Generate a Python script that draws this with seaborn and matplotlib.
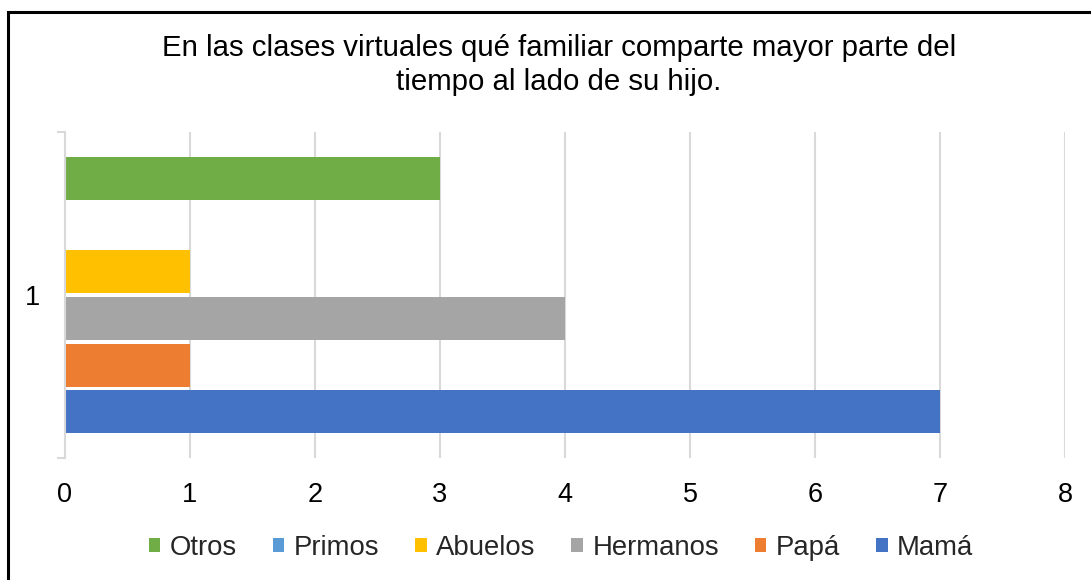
import matplotlib
matplotlib.use("Agg")
import matplotlib.pyplot as plt
import matplotlib.patches as mpatches
import seaborn as sns
import pandas as pd

title = "En las clases virtuales qué familiar comparte mayor parte del\ntiempo al lado de su hijo."
category = ["1"]
series = ["Otros", "Primos", "Abuelos", "Hermanos", "Papá", "Mamá"]
values = [3, 0, 1, 4, 1, 7]
colors = ["#70AD47", "#5B9BD5", "#FFC000", "#A5A5A5", "#ED7D31", "#4472C4"]
xticks = [0, 1, 2, 3, 4, 5, 6, 7, 8]

df = pd.DataFrame({"cat": category * len(series), "serie": series, "valor": values})

sns.set_theme(style="white")
plt.rcParams["font.family"] = ["Liberation Sans", "DejaVu Sans"]

W, H = 1091, 580
fig = plt.figure(figsize=(W / 100, H / 100), dpi=100)
ax = fig.add_axes([65 / W, 1 - 458 / H, 1000 / W, 326 / H])

sns.barplot(data=df, x="valor", y="cat", hue="serie", hue_order=series,
            palette=colors, orient="h", width=0.86, gap=0.08, saturation=1,
            ax=ax, linewidth=0)

ax.set_xlim(0, 8)
ax.set_ylim(0.5, -0.5)
ax.set_xticks(xticks)
ax.set_xticklabels([str(t) for t in xticks])
ax.grid(axis="x", color="#d9d9d9", linewidth=1.5)
ax.set_axisbelow(True)
for s in ["top", "right", "bottom"]:
    ax.spines[s].set_visible(False)
ax.spines["left"].set_color("#d9d9d9")
ax.spines["left"].set_linewidth(1.5)
ax.set_yticks([-0.5, 0.5], minor=True)
ax.tick_params(axis="y", which="minor", left=True, length=6, width=1.5,
               color="#d9d9d9", direction="out")
ax.tick_params(axis="y", which="major", length=0, pad=18, labelsize=19.5, labelcolor="black")
ax.tick_params(axis="x", length=0, pad=17, labelsize=19.5, labelcolor="black")
ax.set_xlabel("")
ax.set_ylabel("")

handles, labels = ax.get_legend_handles_labels()
ax.get_legend().remove()
fig.legend(handles, labels, loc="center", bbox_to_anchor=(561 / W, 1 - 548 / H),
           ncol=6, frameon=False, fontsize=19.8, handlelength=0.42, handleheight=0.42,
           handletextpad=0.35, columnspacing=1.3)

fig.text(559 / W, 1 - 65 / H, title, ha="center", va="center", fontsize=21.2,
         linespacing=1.3, color="black")

border = mpatches.Rectangle((8 / W, -0.1), 1.2, 1 - 12 / H + 0.1, transform=fig.transFigure,
                            fill=False, edgecolor="black", linewidth=2.2, clip_on=False)
fig.patches.append(border)

fig.savefig("out.png", dpi=100)
